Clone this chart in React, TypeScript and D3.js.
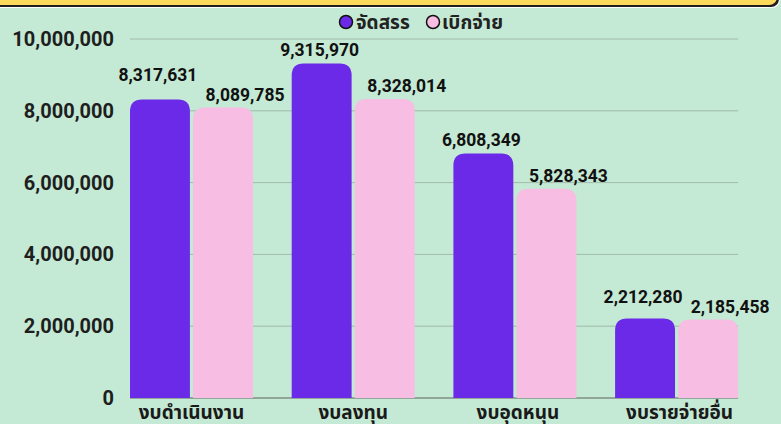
import React from "react";
import * as d3 from "d3";

const categories = ["งบดำเนินงาน", "งบลงทุน", "งบอุดหนุน", "งบรายจ่ายอื่น"];
const seriesNames = ["จัดสรร", "เบิกจ่าย"];
const allocated = [8317631, 9315970, 6808349, 2212280];
const disbursed = [8089785, 8328014, 5828343, 2185458];
const yTicks = [0, 2000000, 4000000, 6000000, 8000000, 10000000];

const W = 781;
const H = 424;
const colors = ["#6a2ae8", "#f7bde3"];
const purpleLift = [10, 0, 0, 8];

export default function App() {
  const x0 = d3.scaleBand<string>().domain(categories).range([130, 130 + 4 * 161.7]).paddingInner(0).paddingOuter(0);
  const x1 = d3.scaleBand<string>().domain(seriesNames).range([0, 123]).paddingInner(0.05);
  const y = d3.scaleLinear().domain([0, 10000000]).range([398, 39]);
  const fmt = d3.format(",");
  const series = [allocated, disbursed];
  const font = "Roboto, 'Noto Sans Thai', 'Noto Sans', sans-serif";
  const gridEnd = (x0(categories[3]) as number) + 123;
  const r = 12;

  const barPath = (x: number, w: number, top: number, bottom: number) => {
    const rr = Math.min(r, (bottom - top));
    return `M${x},${bottom}V${top + rr}Q${x},${top} ${x + rr},${top}H${x + w - rr}Q${x + w},${top} ${x + w},${top + rr}V${bottom}Z`;
  };

  return (
    <svg width={W} height={H} style={{ position: "absolute", left: 0, top: 0, display: "block" }}>
      <rect x={0} y={0} width={W} height={H} fill="#c4e9d4" />
      {/* top yellow banner */}
      <rect x={-10} y={-20} width={790} height={28} rx={8} fill="#ffffff" />
      <rect x={-10} y={-20} width={789} height={27} rx={8} fill="#1f1f1f" />
      <rect x={-10} y={-20} width={787} height={25} rx={8} fill="#ffd95a" />

      {/* legend */}
      <g fontFamily={font} fontWeight="bold" fontSize={19} fill="#222">
        <circle cx={346} cy={22} r={6.5} fill={colors[0]} stroke="#111" strokeWidth={1.5} />
        <text x={356} y={29}>{seriesNames[0]}</text>
        <circle cx={433} cy={22} r={6.5} fill={colors[1]} stroke="#111" strokeWidth={1.5} />
        <text x={442} y={29}>{seriesNames[1]}</text>
      </g>

      {/* grid */}
      {yTicks.map((t) => (
        <line key={t} x1={130} x2={gridEnd} y1={y(t)} y2={y(t)} stroke={t === 0 ? "#7f8f86" : "#9fbcaa"} strokeWidth={t === 0 ? 1.5 : 1} />
      ))}
      {yTicks.map((t) => (
        <text key={"l" + t} x={114} y={y(t) + 7} textAnchor="end" fontFamily={font} fontWeight="bold" fontSize={20} fill="#1e1e1e">
          {fmt(t)}
        </text>
      ))}

      {/* bars */}
      {categories.map((c, ci) =>
        series.map((s, si) => {
          const bx = (x0(c) as number) + (x1(seriesNames[si]) as number);
          const bw = x1.bandwidth();
          const top = y(s[ci]);
          return (
            <path key={c + si} d={barPath(bx, bw, top, y(0))} fill={colors[si]} />
          );
        })
      )}

      {/* value labels */}
      {categories.map((c, ci) =>
        series.map((s, si) => {
          const bx = (x0(c) as number) + (x1(seriesNames[si]) as number);
          const bw = x1.bandwidth();
          const top = y(s[ci]);
          const dx = si === 0 ? -2 : 22;
          const dy = si === 0 ? 8 + purpleLift[ci] : 7;
          return (
            <text key={"v" + c + si} x={bx + bw / 2 + dx} y={top - dy} textAnchor="middle" fontFamily={font} fontWeight="bold" fontSize={17.5} fill="#111">
              {fmt(s[ci])}
            </text>
          );
        })
      )}

      {/* category labels */}
      {categories.map((c, ci) => (
        <text key={"c" + c} x={(x0(c) as number) + 61.5 + (ci >= 2 ? 3 : 0)} y={419} textAnchor="middle" fontFamily={font} fontWeight="bold" fontSize={19} fill="#1a1a1a">
          {c}
        </text>
      ))}
    </svg>
  );
}
